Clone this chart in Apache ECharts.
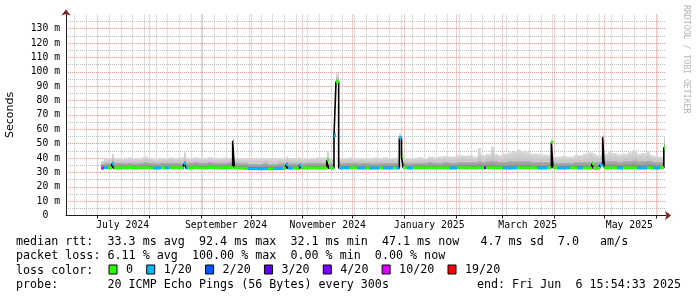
<!DOCTYPE html>
<html><head><meta charset="utf-8">
<script src="https://cdn.jsdelivr.net/npm/echarts@6/dist/echarts.min.js"></script>
<style>html,body{margin:0;padding:0;background:#fff}#c{width:697px;height:297px}</style>
</head><body><div id="c"></div>
<script>
// ---- axis definitions (day 0 = 2024-06-12) ----
const totalDays = 360;
const monthStartDays = [19, 50, 81, 111, 142, 172, 203, 234, 262, 293, 323, 354];
const labelDays = [34, 96, 157, 218, 277, 338];
const monthLabels = ['July 2024', 'September 2024', 'November 2024', 'January 2025', 'March 2025', 'May 2025'];
const firstMonday = 5;
const yMax = 139.9;

// ---- loss legend ----
const lossLabels = ['0', '1/20', '2/20', '3/20', '4/20', '10/20', '19/20'];
const lossColors = ['#26ff00', '#00b8ff', '#0059ff', '#5e00ff', '#7e00ff', '#dd00ff', '#ff0000'];

// ---- data (ms); each segment starts at segStart[i] and lasts until the next start ----
const segStart = [21,23,25,27.5,28.5,31,34,37,40,43,46,49,52,55,57,59.5,61.5,64,67,70,71,72,73,76,79,82,85,88,91,94,97,100,101,103,106,109,112,115,118,121,124,127,130,132,133,136,138,140,141,144,147,150,153,156.5,157.5,160.8,162,163.6,164.5,167,170,172,174.5,177,180,182,185,188,190,193,196,198,200,201.3,202.3,204.5,208,211,214,217,220,223,226,230,234.5,238,241,244,247,249,250.5,252,255,257,259,262,265,268,270.5,273,276,279,282.5,285.5,288.5,291.2,292.2,294.5,297.5,300,302.3,304.5,306.5,310,313,315.5,316.3,318,320.3,322,323,325,327.5,330.5,334,337,339.5,342.5,345.5,348.5,350.5,352,354.5,356.3,358.7];
const dataEnd = 359.4;
const median = [33.0,33.4,33.2,36.0,33.0,33.3,33.2,33.4,33.1,33.3,33.5,33.2,33.0,33.0,33.3,33.1,33.3,33.4,33.2,33.0,36.0,33.0,33.2,33.4,33.3,33.2,33.5,33.3,33.2,33.3,33.4,52.0,33.2,33.0,32.8,32.6,32.6,32.5,32.6,32.5,32.6,32.7,32.8,35.5,32.9,33.0,32.8,35.0,33.0,33.1,33.2,33.0,33.1,38.5,33.0,55.5,93.0,33.0,33.0,33.1,33.2,33.3,33.0,33.0,33.1,33.0,33.0,33.2,33.0,33.0,33.1,33.0,54.0,41.0,33.3,33.0,33.2,33.3,33.2,33.3,33.2,33.3,33.2,33.0,33.3,33.2,33.3,33.2,33.3,33.2,33.2,33.3,33.3,33.2,33.3,33.0,33.0,33.1,33.2,33.3,33.2,33.3,33.0,33.0,33.3,51.0,33.2,33.0,33.0,33.1,33.2,33.3,33.0,33.2,33.0,36.0,32.8,33.0,35.0,54.5,33.1,33.2,33.3,33.0,33.2,33.3,33.3,33.0,33.0,33.3,33.3,33.0,33.0,33.3,47.1];
const lossLevel = [5,1,0,1,0,0,0,0,0,0,0,0,1,1,0,1,0,0,0,1,1,1,0,0,0,0,0,0,0,0,0,0,0,0,0,1,1,1,1,0,1,1,0,1,1,0,0,1,0,0,0,0,0,0,0,1,0,0,1,1,0,0,1,1,0,1,1,0,1,1,0,1,1,0,0,1,0,0,0,0,0,0,0,1,0,0,0,0,0,0,3,0,0,0,0,1,1,1,0,0,0,0,1,1,0,0,0,1,1,1,0,0,1,0,0,0,0,0,1,0,0,0,0,1,0,0,0,1,1,0,0,1,1,0,0];
const smokeMid = [36,36.5,37,38,37,37,36.5,37,36.5,37,37.5,37,36.5,36.5,37,37,37,37,37,37,38.5,37,37,37.5,37,37,37.5,37,37,37,37.5,53,37,36.5,36.5,36,36,36,36.5,36,36,36.5,36.5,37.5,36.5,36.5,36.5,37,36.5,37,37,37,37,40,36.5,57,95,37,36.5,37,37,37,36.5,37,37,36.5,36.5,37,37,37,37,37,55.5,43,37,36.5,37,37,37,37.5,37,37,37.5,37,37.5,37.5,37.5,37.5,38,37.5,37.5,38,38.5,38,37.5,37.5,38,38,38,38,38,37.5,37.5,37.5,37.5,52,37,37,37,37,37,37.5,37.5,37.5,37.5,38,37.5,37.5,37.5,55.5,38,38,38,37.5,38,38,38.5,38,38,38.5,38,37.5,37.5,37.5,50];
const smokeTop = [38,39.5,40,43,40,40,39.5,40.5,40,40,41,40,39.5,40,40,40,40.5,40,40.5,40.5,44,40,40,40.5,40,40,40.5,40,40,40.5,40,53.5,40,40,39.5,39.5,39.5,40,40,39.5,39.5,40,40,41,40,40,39.5,40.5,40,40,40,40.5,40.5,45,40,58,99,40,40,40,40.5,40,40,40,40,40,40.5,40,40.5,40,40,40.5,57,46,40,40,40,40.5,40,41,40.5,41,41.5,41,42,41.5,42,41,47,42,42,43,48,43,42,43,44,45,46,45,44,43,43,42.5,42,53,41,41,41.5,41,41,42,42,43,44,44,43,42,42,56,43,44.5,43.5,42.5,43,44,45.5,43,43.5,45,42,41.5,41,41,55];

// ---- derived rows for the library ----
const segEnd = segStart.map((d, i) => i < segStart.length - 1 ? segStart[i + 1] : dataEnd);
const smokeRows = segStart.map((d, i) => [d, segEnd[i], median[i], smokeMid[i], smokeTop[i]]);
const lineRows = segStart.map((d, i) => [d, median[i]]).concat([[dataEnd, median[median.length - 1]]]);
const dayCats = Array.from({length: totalDays + 1}, (_, i) => String(i));

const MONO = '"DejaVu Sans Mono", monospace';
const RED = '#eb9a9a', GREY = '#bdbdbd', AXIS = '#1f1f1f', ARROW = '#801f1f';

const chart = echarts.init(document.getElementById('c'), null, {renderer: 'canvas'});

function smokeItem(params, api) {
  const x0 = Math.round(api.coord([api.value(0), 0])[0]);
  const x1 = Math.round(api.coord([api.value(1), 0])[0]);
  const yMed = api.coord([0, api.value(2)])[1];
  const yMid = api.coord([0, api.value(3)])[1];
  const yTop = api.coord([0, api.value(4)])[1];
  return {type: 'group', children: [
    {type: 'rect', shape: {x: x0, y: yMid, width: x1 - x0, height: yMed - yMid},
     style: {fill: new echarts.graphic.LinearGradient(0, 0, 0, 1, [{offset: 0, color: '#b2b2b2'}, {offset: 0.6, color: '#989898'}, {offset: 1, color: '#636363'}])}},
    {type: 'rect', shape: {x: x0, y: yTop, width: x1 - x0, height: yMid - yTop},
     style: {fill: new echarts.graphic.LinearGradient(0, 0, 0, 1, [{offset: 0, color: '#dcdcdc'}, {offset: 1, color: '#c2c2c2'}])}}
  ]};
}

function lossItem(params, api) {
  const x0 = Math.round(api.coord([api.value(0), 0])[0]);
  const x1 = Math.round(api.coord([api.value(1), 0])[0]);
  const y = api.coord([0, api.value(2)])[1];
  return {type: 'rect', shape: {x: x0, y: y - 1.5, width: Math.max(1, x1 - x0), height: 3},
          style: {fill: api.visual('color')}};
}

const lossSeries = lossLabels.map((name, k) => ({
  name: name, type: 'custom', xAxisIndex: 0, yAxisIndex: 0, z: 5,
  itemStyle: {color: lossColors[k]},
  renderItem: lossItem,
  encode: {x: [0, 1], y: 2},
  data: segStart.map((d, i) => [d, segEnd[i], median[i], lossLevel[i]]).filter(r => r[3] === k)
}));

const option = {
  animation: false,
  backgroundColor: '#fff',
  grid: {left: 66, right: 31, top: 14.5, bottom: 81.5, outerBoundsMode: 'none', containLabel: false},
  xAxis: [
    {type: 'value', min: 0, max: totalDays, show: false},
    {type: 'category', data: dayCats, boundaryGap: false, position: 'bottom', z: 1,
     axisLine: {show: true, lineStyle: {color: AXIS, width: 1}},
     axisTick: {show: true, interval: (i) => monthStartDays.includes(i), length: 3, lineStyle: {color: AXIS}},
     axisLabel: {show: true, interval: (i) => labelDays.includes(i), margin: 5,
                 formatter: (v, i) => monthLabels[labelDays.indexOf(Number(v))] || '',
                 fontFamily: MONO, fontSize: 9.75, color: '#000'},
     splitLine: {show: true, interval: (i) => monthStartDays.includes(i),
                 lineStyle: {color: RED, type: [1, 1], width: 1}}},
    {type: 'category', data: dayCats, boundaryGap: false, position: 'bottom', z: 0,
     axisLine: {show: true, symbol: ['none', 'arrow'], symbolSize: [7, 6], symbolOffset: [0, 5],
                lineStyle: {color: ARROW, width: 0}},
     axisTick: {show: false}, axisLabel: {show: false},
     splitLine: {show: true, interval: (i) => i >= firstMonday && (i - firstMonday) % 7 === 0 && !monthStartDays.includes(i),
                 lineStyle: {color: GREY, type: [1, 1], width: 1}}}
  ],
  yAxis: [
    {type: 'value', min: 0, max: yMax, interval: 5, position: 'left', z: 1,
     name: 'Seconds', nameLocation: 'middle', nameGap: 50, nameRotate: 90,
     nameTextStyle: {fontFamily: '"DejaVu Sans", sans-serif', fontSize: 11, color: '#000'},
     axisLine: {show: true, lineStyle: {color: AXIS, width: 1}},
     axisTick: {show: false},
     axisLabel: {margin: 6, fontFamily: MONO, fontSize: 9.75, color: '#000',
                 formatter: (v) => (v % 10 !== 0) ? '' : (v === 0 ? '0\u00a0\u00a0' : v + ' m')},
     splitLine: {show: true, showMaxLine: false, lineStyle: {color: [RED, GREY], type: [1, 1], width: 1}}},
    {type: 'value', min: 0, max: yMax, interval: 10, position: 'left', z: 0,
     axisLine: {show: true, symbol: ['none', 'arrow'], symbolSize: [7, 6], symbolOffset: [0, 5],
                lineStyle: {color: ARROW, width: 0}},
     axisTick: {show: false}, axisLabel: {show: false}, splitLine: {show: false}}
  ],
  legend: {
    data: lossLabels, left: 108.5, top: 263.5, padding: 0, itemWidth: 8, itemHeight: 9, itemGap: 13.2,
    icon: 'rect', selectedMode: false,
    itemStyle: {borderColor: '#000', borderWidth: 1},
    textStyle: {fontFamily: MONO, fontSize: 11.7, color: '#000', padding: [0, 0, 0, 4]}
  },
  graphic: [
    {type: 'text', x: 16, y: 242, style: {text: 'median rtt:  33.3 ms avg  92.4 ms max  32.1 ms min  47.1 ms now   4.7 ms sd  7.0   am/s', font: '11.7px ' + MONO, fill: '#000', verticalAlign: 'middle'}},
    {type: 'text', x: 16, y: 256.3, style: {text: 'packet loss: 6.11 % avg  100.00 % max  0.00 % min  0.00 % now', font: '11.7px ' + MONO, fill: '#000', verticalAlign: 'middle'}},
    {type: 'text', x: 16, y: 270.5, style: {text: 'loss color:', font: '11.7px ' + MONO, fill: '#000', verticalAlign: 'middle'}},
    {type: 'text', x: 16, y: 284.7, style: {text: 'probe:       20 ICMP Echo Pings (56 Bytes) every 300s', font: '11.7px ' + MONO, fill: '#000', verticalAlign: 'middle'}},
    {type: 'text', x: 681, y: 284.7, style: {text: 'end: Fri Jun  6 15:54:33 2025', font: '11.7px ' + MONO, fill: '#000', align: 'right', verticalAlign: 'middle'}},
    {type: 'text', x: 686, y: 5, rotation: -Math.PI / 2, style: {text: 'RRDTOOL / TOBI OETIKER', font: '8.2px ' + MONO, fill: '#b4b4b4', align: 'left', verticalAlign: 'middle'}}
  ],
  series: [
    {name: 'smoke', type: 'custom', xAxisIndex: 0, yAxisIndex: 0, z: 2, renderItem: smokeItem,
     encode: {x: [0, 1], y: [2, 3, 4]}, data: smokeRows, silent: true},
    {name: 'median', type: 'line', xAxisIndex: 0, yAxisIndex: 0, z: 4, step: 'end', symbol: 'none',
     lineStyle: {color: '#000', width: 1.6}, data: lineRows, silent: true}
  ].concat(lossSeries)
};
chart.setOption(option);
</script></body></html>
